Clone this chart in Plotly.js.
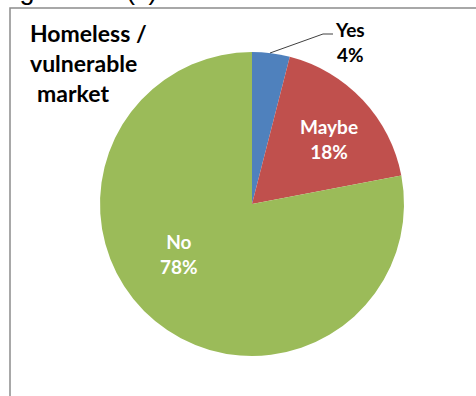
<!DOCTYPE html>
<html>
<head>
<meta charset="utf-8">
<script src="https://cdn.plot.ly/plotly-3.0.1.min.js"></script>
<style>html,body{margin:0;padding:0;background:#fff;}#chart{width:476px;height:396px;}</style>
</head>
<body>
<div id="chart"></div>
<script>
// Data
const categories = ["Yes", "Maybe", "No"];
const shares = [4, 18, 78];
const sliceColors = ["#4F81BD", "#C0504D", "#9BBB59"];
const chartTitleLines = ["Homeless /", "vulnerable", " market"];
const figureCaption = "Figure 1.5 (c)";

const W = 476, H = 396;
const px = (x) => x / W;
const py = (y) => 1 - y / H;

// pie geometry (pixels)
const cx = 252, cy = 204, R = 152;

const labelFont = {family: "Lato, 'Open Sans', sans-serif", size: 19, color: "#ffffff"};
const boldWrap = (s) => "<b>" + s + "</b>";

const labelText = categories.map((c, i) => boldWrap(c + "<br>" + shares[i] + "%"));
const labelPos = [[350, 42], [329, 139], [179, 254]];

const annotations = [];
categories.forEach((c, i) => {
  annotations.push({
    xref: "paper", yref: "paper",
    x: px(labelPos[i][0]), y: py(labelPos[i][1]),
    xanchor: "center", yanchor: "middle",
    text: labelText[i], showarrow: false,
    font: Object.assign({}, labelFont, {color: i === 0 ? "#000000" : "#ffffff"})
  });
});
// title lines
chartTitleLines.forEach((t, i) => {
  annotations.push({
    xref: "paper", yref: "paper",
    x: px(i === 2 ? 35 : 28), y: py(33 + i * 30),
    xanchor: "left", yanchor: "middle",
    text: boldWrap(t.trim()), showarrow: false,
    font: {family: "Lato, 'Open Sans', sans-serif", size: 23, color: "#000000"}
  });
});
// clipped caption at top
annotations.push({
  xref: "paper", yref: "paper",
  x: px(-5), y: py(-10),
  xanchor: "left", yanchor: "middle",
  text: figureCaption, showarrow: false,
  font: {family: "Liberation Sans, Arial, sans-serif", size: 27, color: "#000000"}
});

const shapes = [
  {type: "rect", xref: "paper", yref: "paper",
   x0: px(10), x1: px(W + 20), y0: py(H + 20), y1: py(8),
   line: {color: "#8c8c8c", width: 1.5}, fillcolor: "rgba(0,0,0,0)", layer: "below"},
  {type: "path", xref: "paper", yref: "paper",
   path: "M" + px(270) + "," + py(53) + " L" + px(323) + "," + py(34) + " L" + px(333) + "," + py(34),
   line: {color: "#404040", width: 1}}
];

const trace = {
  type: "pie",
  labels: categories,
  values: shares,
  sort: false,
  direction: "clockwise",
  rotation: 0,
  textinfo: "none",
  hoverinfo: "label+percent",
  marker: {colors: sliceColors, line: {color: "#ffffff", width: 0}},
  domain: {x: [px(cx - R), px(cx + R)], y: [py(cy + R), py(cy - R)]},
  showlegend: false
};

const layout = {
  width: W, height: H,
  margin: {l: 0, r: 0, t: 0, b: 0},
  paper_bgcolor: "#ffffff",
  showlegend: false,
  annotations: annotations,
  shapes: shapes
};

Plotly.newPlot("chart", [trace], layout, {displayModeBar: false, staticPlot: true});
</script>
</body>
</html>
